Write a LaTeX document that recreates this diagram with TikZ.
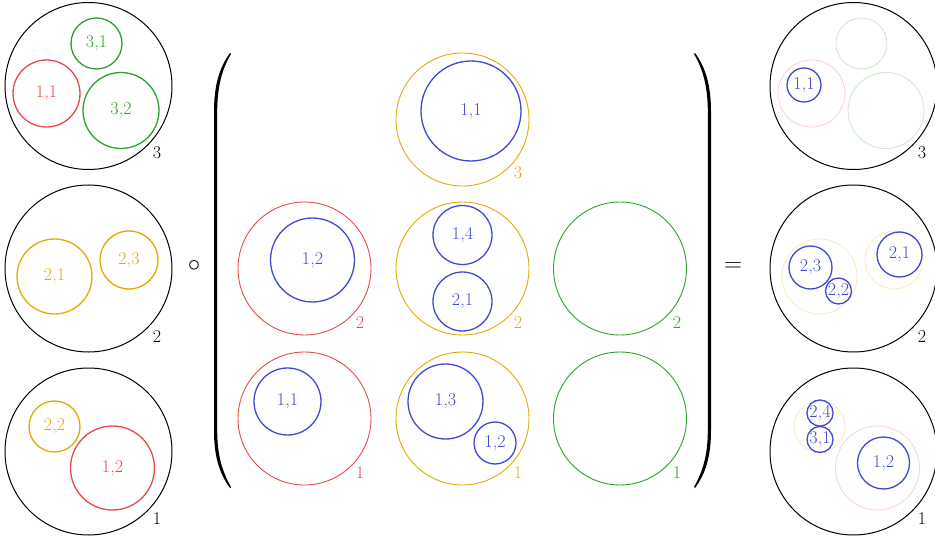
\documentclass[tikz,border=0pt]{standalone}
\usepackage{fontspec}
\usetikzlibrary{calc}
\definecolor{cred}{RGB}{232,72,72}
\definecolor{cgreen}{RGB}{44,162,44}
\definecolor{cyellow}{RGB}{222,172,0}
\definecolor{cblue}{RGB}{64,72,212}
\begin{document}
\begin{tikzpicture}[x=1pt,y=-1pt,
  font=\fontsize{18}{20}\selectfont,
  ring/.style={circle,draw,inner sep=0pt,minimum size=#1pt},
  outerc/.style={ring=#1,draw=black,line width=1pt},
  inc/.style={ring=#1,line width=1.3pt},
  bigc/.style={ring=#1,line width=0.9pt},
  bluec/.style={ring=#1,draw=cblue,text=cblue,line width=1.3pt},
  faint/.style={ring=#1,line width=0.8pt,draw opacity=0.25},
  lab/.style={inner sep=0pt}]
\useasboundingbox (0,0) rectangle (935,540);

% ---------- left column ----------
\node[outerc=167] (L3) at (88.5,86) {};
\node[lab] (L3lab) at (157,153) {3};
\node[inc=51,draw=cgreen,text=cgreen] (La31) at (96.5,43.5) {3,1};
\node[inc=67,draw=cred,text=cred] (La11) at (46.5,93.5) {1,1};
\node[inc=76,draw=cgreen,text=cgreen] (La32) at (121,110.5) {3,2};

\node[outerc=167] (L2) at (88.5,268.5) {};
\node[lab] (L2lab) at (157,337) {2};
\node[inc=75,draw=cyellow,text=cyellow] (Lb21) at (54.5,276.5) {2,1};
\node[inc=58,draw=cyellow,text=cyellow] (Lb23) at (129,260) {2,3};

\node[outerc=167] (L1) at (88.5,451.5) {};
\node[lab] (L1lab) at (157,519) {1};
\node[inc=51,draw=cyellow,text=cyellow] (Lc22) at (54.5,426.5) {2,2};
\node[inc=84,draw=cred,text=cred] (Lc12) at (112.5,468) {1,2};

% ---------- operator ----------
\node[lab,font=\fontsize{40}{40}\selectfont] (comp) at (194,266) {$\circ$};

% ---------- parentheses ----------
\fill (230,53) .. controls (219,68) and (214,86) .. (214,112)
  -- (214,430) .. controls (214,456) and (219,473) .. (230,488)
  -- (231,487) .. controls (222,471) and (217.2,455) .. (217.2,430)
  -- (217.2,112) .. controls (217.2,87) and (222,69) .. (231,54) -- cycle;
\fill (695,53) .. controls (706,68) and (711,86) .. (711,112)
  -- (711,430) .. controls (711,456) and (706,473) .. (695,488)
  -- (694,487) .. controls (703,471) and (707.8,455) .. (707.8,430)
  -- (707.8,112) .. controls (707.8,87) and (703,69) .. (694,54) -- cycle;

% ---------- matrix ----------
\node[bigc=133,draw=cyellow] (M13) at (462.5,119.5) {};
\node[lab,text=cyellow] (M13lab) at (518,173) {3};
\node[bluec=100] (M13a) at (471,111) {1,1};

\node[bigc=133,draw=cred] (M22) at (304.5,268.5) {};
\node[lab,text=cred] (M22lab) at (360,323) {2};
\node[bluec=84] (M22a) at (312.5,260) {1,2};

\node[bigc=133,draw=cyellow] (M23) at (462.5,268.5) {};
\node[lab,text=cyellow] (M23lab) at (518,323) {2};
\node[bluec=59] (M23a) at (462.5,235) {1,4};
\node[bluec=59] (M23b) at (462.5,301.5) {2,1};

\node[bigc=133,draw=cgreen] (M24) at (620,268.5) {};
\node[lab,text=cgreen] (M24lab) at (677,323) {2};

\node[bigc=133,draw=cred] (M32) at (304.5,418.5) {};
\node[lab,text=cred] (M32lab) at (360,473) {1};
\node[bluec=67] (M32a) at (287.5,401.5) {1,1};

\node[bigc=133,draw=cyellow] (M33) at (462.5,418.5) {};
\node[lab,text=cyellow] (M33lab) at (518,473) {1};
\node[bluec=75] (M33a) at (445.5,401.5) {1,3};
\node[bluec=42] (M33b) at (495,443) {1,2};

\node[bigc=133,draw=cgreen] (M34) at (620,418.5) {};
\node[lab,text=cgreen] (M34lab) at (677,473) {1};

% ---------- equals ----------
\node[lab,font=\fontsize{24}{24}\selectfont] (eq) at (733,267) {$=$};

% ---------- right column ----------
\node[outerc=167] (R3) at (853.5,86) {};
\node[lab] (R3lab) at (922,153) {3};
\node[faint=67,draw=cred] (Ra11) at (811.5,93.5) {};
\node[faint=51,draw=cgreen] (Ra31) at (861.5,43.5) {};
\node[faint=76,draw=cgreen] (Ra32) at (886,110.5) {};
\node[bluec=34] (Rab11) at (804,85) {1,1};

\node[outerc=167] (R2) at (853.5,268.5) {};
\node[lab] (R2lab) at (922,337) {2};
\node[faint=75,draw=cyellow] (Rb21) at (819.5,276.5) {};
\node[faint=58,draw=cyellow] (Rb23) at (894,260) {};
\node[bluec=43] (Rbb23) at (810.5,267.5) {2,3};
\node[bluec=23] (Rbb22) at (838.5,291) {2,2};
\node[bluec=45] (Rbb21) at (899.5,254.5) {2,1};

\node[outerc=167] (R1) at (853.5,451.5) {};
\node[lab] (R1lab) at (922,519) {1};
\node[faint=51,draw=cyellow] (Rc22) at (819.5,426.5) {};
\node[faint=84,draw=cred] (Rc12) at (877.5,468) {};
\node[bluec=21] (Rcb24) at (820,413) {2,4};
\node[bluec=22] (Rcb31) at (820,439.5) {3,1};
\node[bluec=52] (Rcb12) at (883.5,463) {1,2};
\end{tikzpicture}
\end{document}
